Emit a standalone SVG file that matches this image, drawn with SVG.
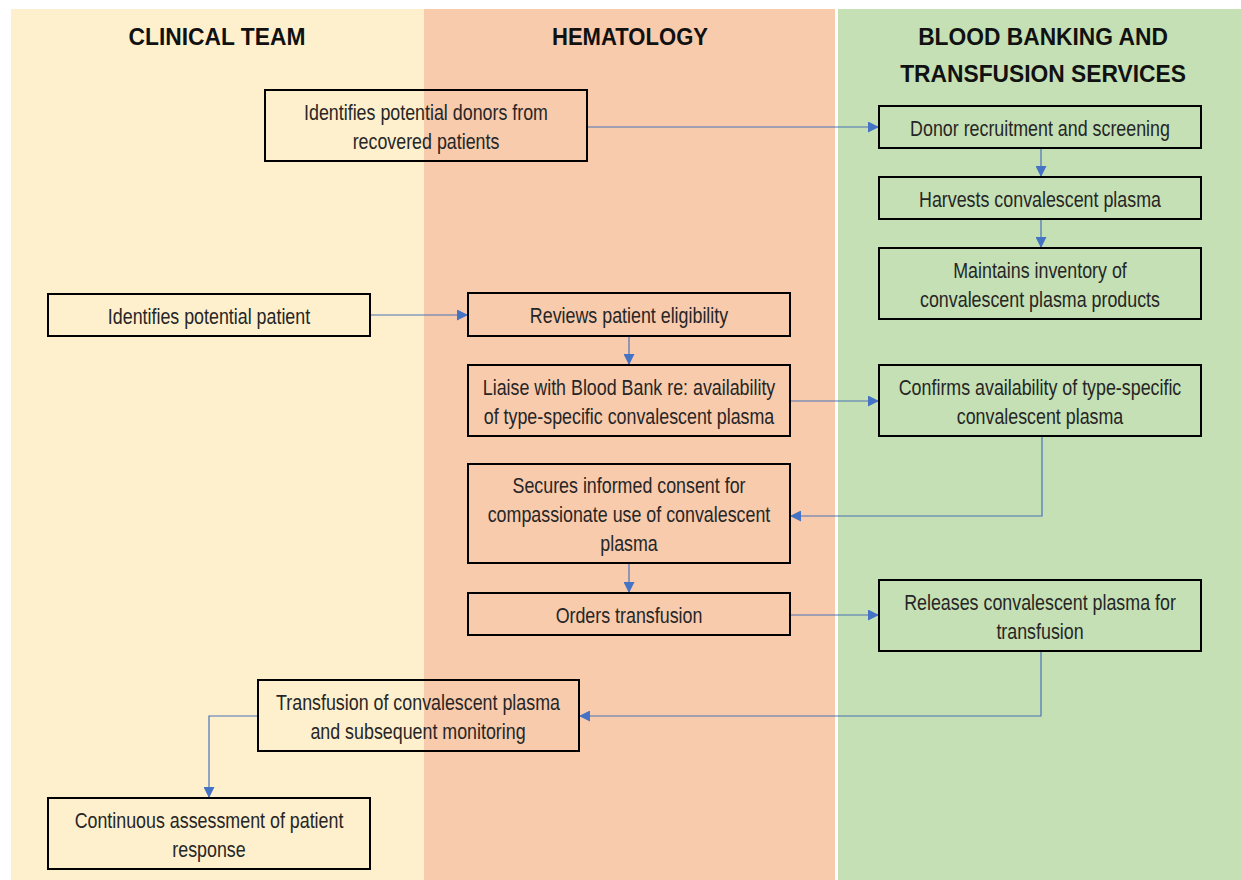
<svg xmlns="http://www.w3.org/2000/svg" width="1241" height="880" viewBox="0 0 1241 880">
<style>
.hdr{font-family:"Liberation Sans",Arial,sans-serif;font-weight:bold;font-size:24px;fill:#111;text-anchor:middle}
.box{stroke:#000;stroke-width:2;fill:none}
.t{font-family:"Liberation Sans",Arial,sans-serif;font-size:21.5px;fill:#262626;text-anchor:middle}
.c{stroke:#4A72B8;stroke-width:1.2;fill:none}
</style>
<defs>
<marker id="ah" viewBox="0 0 10 10" refX="10" refY="5" markerWidth="11" markerHeight="11" markerUnits="userSpaceOnUse" orient="auto">
<path d="M0,0 L10,5 L0,10 z" fill="#4472C4"/>
</marker>
</defs>
<rect width="1241" height="880" fill="#fff"/>
<g id="lanes">
<rect x="11" y="9" width="413" height="871" fill="#FEF0CD"/>
<rect x="424" y="9" width="411" height="871" fill="#F8CBAD"/>
<rect x="838" y="9" width="403" height="871" fill="#C5E0B4"/>
<text class="hdr" transform="translate(217,45) scale(0.95,1)">CLINICAL TEAM</text>
<text class="hdr" transform="translate(630,45) scale(0.92,1)">HEMATOLOGY</text>
<text class="hdr" transform="translate(1043,45) scale(0.95,1)">BLOOD BANKING AND</text>
<text class="hdr" transform="translate(1043,82) scale(0.95,1)">TRANSFUSION SERVICES</text>
</g>
<g id="connectors">
<path class="c" d="M587,127 H879" marker-end="url(#ah)"/>
<path class="c" d="M1041,148 V177" marker-end="url(#ah)"/>
<path class="c" d="M1041,219 V248" marker-end="url(#ah)"/>
<path class="c" d="M370,315 H468" marker-end="url(#ah)"/>
<path class="c" d="M629,336 V365" marker-end="url(#ah)"/>
<path class="c" d="M790,401 H879" marker-end="url(#ah)"/>
<path class="c" d="M1042,436 V516 H790" marker-end="url(#ah)"/>
<path class="c" d="M629,563 V593" marker-end="url(#ah)"/>
<path class="c" d="M790,615 H879" marker-end="url(#ah)"/>
<path class="c" d="M1041,651 V716 H579" marker-end="url(#ah)"/>
<path class="c" d="M258,716 H209 V798" marker-end="url(#ah)"/>
</g>
<g id="n1"><rect class="box" x="265" y="90" width="322" height="71"/><text class="t" transform="translate(426,120) scale(0.83,1)">Identifies potential donors from</text><text class="t" transform="translate(426,149) scale(0.83,1)">recovered patients</text></g>
<g id="n2"><rect class="box" x="879" y="106" width="322" height="42"/><text class="t" transform="translate(1040,135.5) scale(0.83,1)">Donor recruitment and screening</text></g>
<g id="n3"><rect class="box" x="879" y="177" width="322" height="42"/><text class="t" transform="translate(1040,206.5) scale(0.83,1)">Harvests convalescent plasma</text></g>
<g id="n4"><rect class="box" x="879" y="248" width="322" height="71"/><text class="t" transform="translate(1040,278) scale(0.83,1)">Maintains inventory of</text><text class="t" transform="translate(1040,307) scale(0.83,1)">convalescent plasma products</text></g>
<g id="n5"><rect class="box" x="48" y="294" width="322" height="42"/><text class="t" transform="translate(209,323.5) scale(0.83,1)">Identifies potential patient</text></g>
<g id="n6"><rect class="box" x="468" y="293" width="322" height="43"/><text class="t" transform="translate(629,323) scale(0.83,1)">Reviews patient eligibility</text></g>
<g id="n7"><rect class="box" x="468" y="365" width="322" height="71"/><text class="t" transform="translate(629,395) scale(0.83,1)">Liaise with Blood Bank re: availability</text><text class="t" transform="translate(629,424) scale(0.83,1)">of type-specific convalescent plasma</text></g>
<g id="n8"><rect class="box" x="879" y="365" width="322" height="71"/><text class="t" transform="translate(1040,395) scale(0.83,1)">Confirms availability of type-specific</text><text class="t" transform="translate(1040,424) scale(0.83,1)">convalescent plasma</text></g>
<g id="n9"><rect class="box" x="468" y="464" width="322" height="99"/><text class="t" transform="translate(629,492.5) scale(0.83,1)">Secures informed consent for</text><text class="t" transform="translate(629,521.5) scale(0.83,1)">compassionate use of convalescent</text><text class="t" transform="translate(629,550.5) scale(0.83,1)">plasma</text></g>
<g id="n10"><rect class="box" x="468" y="593" width="322" height="42"/><text class="t" transform="translate(629,622.5) scale(0.83,1)">Orders transfusion</text></g>
<g id="n11"><rect class="box" x="879" y="580" width="322" height="71"/><text class="t" transform="translate(1040,610) scale(0.83,1)">Releases convalescent plasma for</text><text class="t" transform="translate(1040,639) scale(0.83,1)">transfusion</text></g>
<g id="n12"><rect class="box" x="258" y="680" width="321" height="71"/><text class="t" transform="translate(418,710) scale(0.83,1)">Transfusion of convalescent plasma</text><text class="t" transform="translate(418,739) scale(0.83,1)">and subsequent monitoring</text></g>
<g id="n13"><rect class="box" x="48" y="798" width="322" height="71"/><text class="t" transform="translate(209,828) scale(0.83,1)">Continuous assessment of patient</text><text class="t" transform="translate(209,857) scale(0.83,1)">response</text></g>
</svg>
